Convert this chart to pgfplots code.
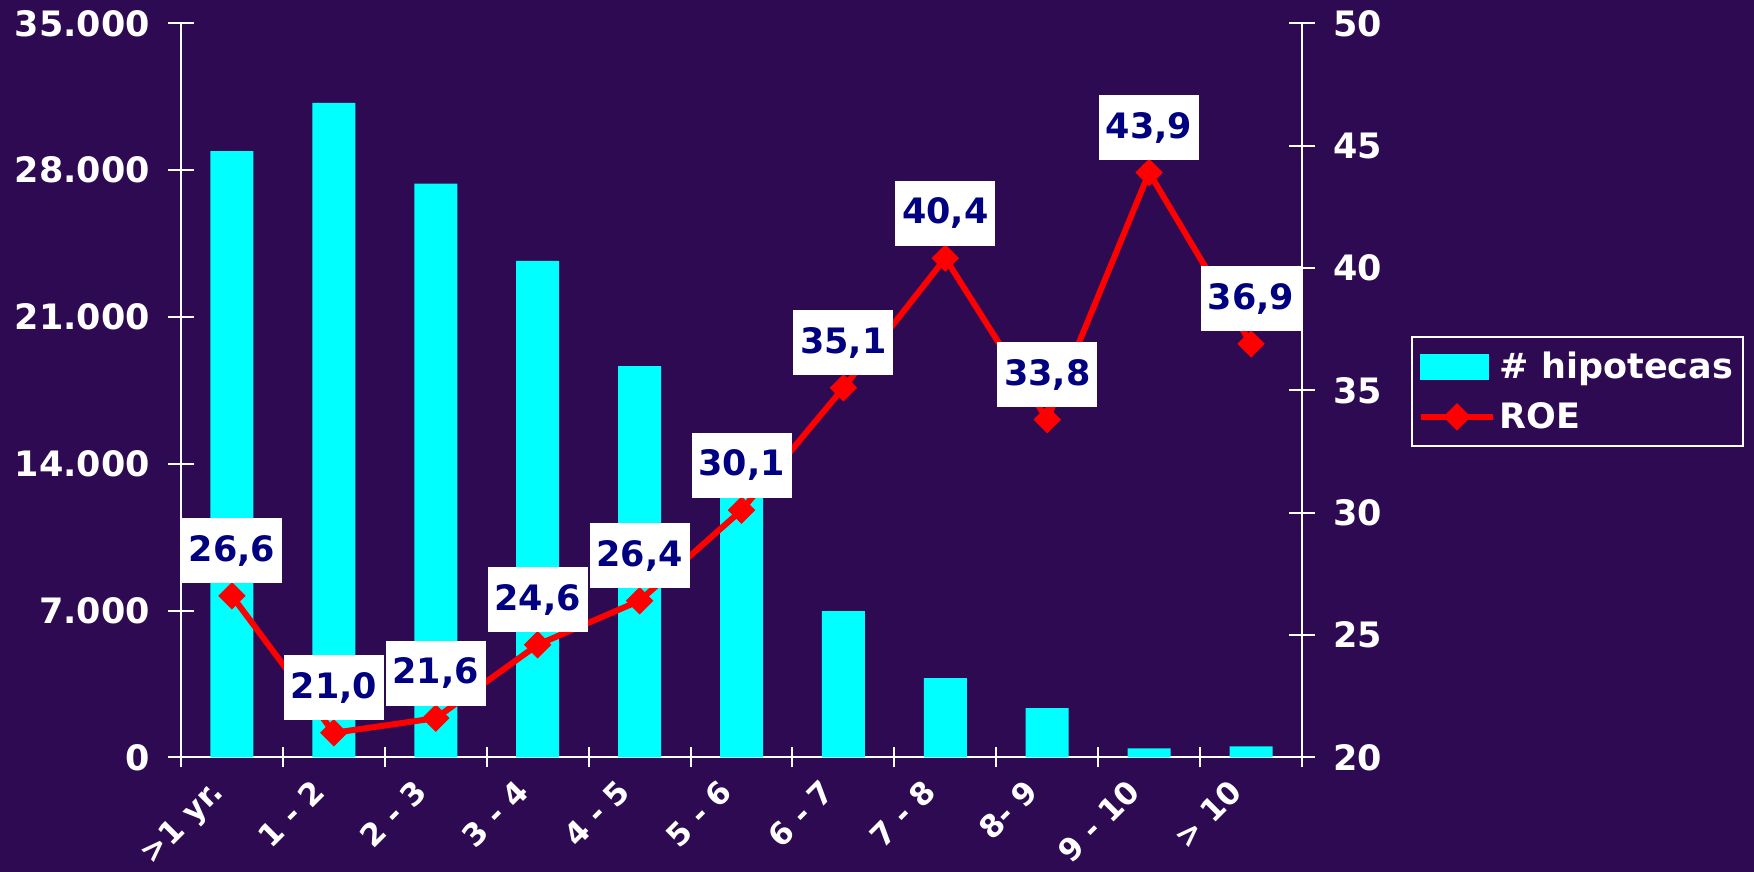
\documentclass[border=0pt]{standalone}
\usepackage{fontspec}
\setmainfont{DejaVu Sans}
\usepackage{pgfplots}
\pgfplotsset{compat=1.18}
\definecolor{bg}{RGB}{46,10,82}
\definecolor{navy}{RGB}{0,0,128}
\definecolor{barcyan}{RGB}{0,255,255}
\begin{document}
\begin{tikzpicture}[font=\bfseries]
\fill[bg] (-90.5pt,-57.25pt) rectangle (786.5pt,378.65pt);
\begin{axis}[
  at={(0pt,0pt)}, anchor=south west,
  scale only axis, width=560.5pt, height=367pt,
  xmin=-0.5, xmax=10.5, ymin=0, ymax=35000,
  axis x line=bottom, axis y line=left,
  axis line style={white, line width=1pt, -},
  xtick={0,...,10},
  xticklabels={{>1 yr.},{1 - 2},{2 - 3},{3 - 4},{4 - 5},{5 - 6},{6 - 7},{7 - 8},{8- 9},{9 - 10},{> 10}},
  major x tick style={draw=none},
  minor xtick={-0.5,0.5,...,10.5},
  minor tick length=10pt,
  minor x tick style={white, line width=1pt},
  ytick={0,7000,14000,21000,28000,35000},
  yticklabels={0,7.000,14.000,21.000,28.000,35.000},
  scaled y ticks=false,
  major tick length=13pt,
  tick align=center,
  y tick style={white, line width=1pt},
  ticklabel style={text=white},
  yticklabel style={font=\bfseries\fontsize{17.5}{20}\selectfont, xshift=-5.5pt},
  xticklabel style={font=\bfseries\fontsize{15.5}{18}\selectfont, rotate=45, anchor=north east, xshift=-7.5pt, yshift=9.2pt},
]
\addplot[ybar, bar width=21.5pt, fill=barcyan, draw=none] coordinates {
  (0,28900) (1,31200) (2,27350) (3,23670) (4,18650) (5,12600)
  (6,6970) (7,3770) (8,2340) (9,430) (10,525)
};
\end{axis}
\begin{axis}[
  at={(0pt,0pt)}, anchor=south west,
  scale only axis, width=560.5pt, height=367pt,
  xmin=-0.5, xmax=10.5, ymin=20, ymax=50,
  axis x line=none, axis y line=right,
  axis line style={white, line width=1pt, -},
  ytick={20,25,30,35,40,45,50},
  major tick length=13pt,
  tick align=center,
  y tick style={white, line width=1pt},
  /pgf/number format/assume math mode=true,
  yticklabel style={text=white, font=\bfseries\fontsize{17.5}{20}\selectfont, xshift=5.5pt},
  legend style={at={(1.0972,0.5743)}, anchor=north west, draw=white, line width=1pt,
    fill=bg, text=white, font=\bfseries\fontsize{17.5}{20}\selectfont,
    inner xsep=3pt, inner ysep=5.5pt, row sep=6.5pt},
  legend cell align=left,
]
\addlegendimage{legend image code/.code={\fill[barcyan] (0pt,-6pt) rectangle (33.5pt,6pt);}}
\addlegendentry{\# hipotecas}
\addplot[red, line width=3pt, mark=square*, mark size=4.6pt,
  mark options={rotate=45, solid, line width=0.5pt},
  legend image code/.code={\draw[mark repeat=2,mark phase=2] plot coordinates {(0pt,0pt)(18pt,0pt)(36pt,0pt)};},
  nodes near coords, point meta=explicit symbolic,
  nodes near coords style={anchor=south, yshift=6pt, fill=white, text=navy,
    font=\bfseries\fontsize{17.5}{20}\selectfont, minimum width=50pt, minimum height=32.5pt, inner sep=0pt}
] coordinates {
  (0,26.6) [26,6]
  (1,21.0) [21,0]
  (2,21.6) [21,6]
  (3,24.6) [24,6]
  (4,26.4) [26,4]
  (5,30.1) [30,1]
  (6,35.1) [35,1]
  (7,40.4) [40,4]
  (8,33.8) [33,8]
  (9,43.9) [43,9]
  (10,36.9) [36,9]
};
\addlegendentry{ROE}
\end{axis}
\pgfresetboundingbox
\path (-90.5pt,-57.25pt) rectangle (786.5pt,378.65pt);
\end{tikzpicture}
\end{document}
